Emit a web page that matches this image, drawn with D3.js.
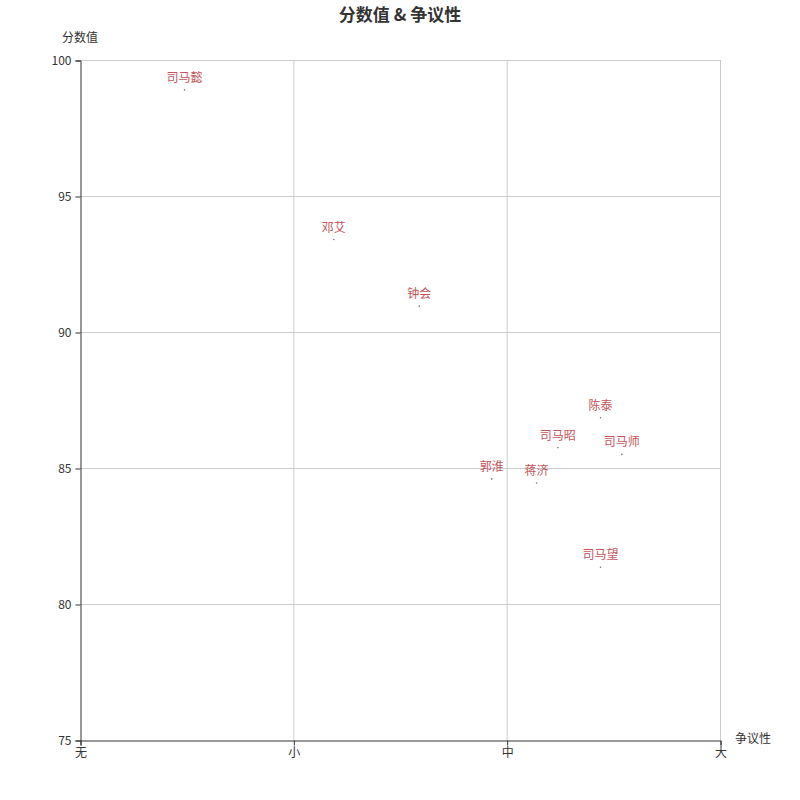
<!DOCTYPE html>
<html><head><meta charset="utf-8">
<script src="https://cdn.jsdelivr.net/npm/d3@7"></script>
<style>body{margin:0;background:#fff;font-family:"Noto Sans CJK SC","Noto Sans",sans-serif;}</style>
</head><body><svg id="c" width="800" height="800"></svg>
<script>
const names = ["司马懿","邓艾","钟会","郭淮","蒋济","司马昭","陈泰","司马师","司马望"];
const controversy = [0.49,1.19,1.59,1.93,2.14,2.24,2.44,2.54,2.44];
const scores = [98.9,93.4,90.95,84.6,84.45,85.75,86.85,85.5,81.35];
const xTickLabels = ["无","小","中","大"];
const yTicks = [75,80,85,90,95,100];

const svg = d3.select("#c");
const L=80,R=720,T=60,B=740;
const x = d3.scaleLinear().domain([0,3]).range([L,R]);
const y = d3.scaleLinear().domain([75,100]).range([B,T]);
const font = '"Noto Sans CJK SC","Noto Sans",sans-serif';

// grid
svg.append("g").selectAll("line").data(yTicks.slice(1)).join("line")
  .attr("x1",L).attr("x2",R).attr("y1",d=>y(d)+0.5).attr("y2",d=>y(d)+0.5)
  .attr("stroke","#ccc").attr("stroke-width",1);
svg.append("g").selectAll("line").data([1,2,3]).join("line")
  .attr("x1",d=>x(d)+0.5).attr("x2",d=>x(d)+0.5).attr("y1",T).attr("y2",B)
  .attr("stroke","#ccc").attr("stroke-width",1);

// axes
const yAxis = d3.axisLeft(y).tickValues(yTicks).tickSize(5).tickPadding(4);
const gy = svg.append("g").attr("transform",`translate(${L+0.5},0.5)`).call(yAxis);
const xAxis = d3.axisBottom(x).tickValues([0,1,2,3]).tickFormat(d=>xTickLabels[d]).tickSize(5).tickPadding(3);
const gx = svg.append("g").attr("transform",`translate(0.5,${B+0.5})`).call(xAxis);
[gx,gy].forEach(g=>{
  g.select(".domain").attr("stroke","#333");
  g.selectAll(".tick line").attr("stroke","#333");
  g.selectAll("text").attr("fill","#333").style("font-family",font).style("font-size","12px");
});

// axis names
svg.append("text").attr("x",L).attr("y",42).attr("text-anchor","middle")
  .style("font-family",font).style("font-size","12px").attr("fill","#333").text("分数值");
svg.append("text").attr("x",R+15).attr("y",B+3).attr("text-anchor","start")
  .style("font-family",font).style("font-size","12px").attr("fill","#333").text("争议性");

// title
svg.append("text").attr("x",400).attr("y",21).attr("text-anchor","middle")
  .style("font-family",font).style("font-size","17px").style("font-weight","bold")
  .attr("fill","#333").text("分数值 & 争议性");

// points
const data = names.map((n,i)=>({n,cx:controversy[i],sc:scores[i]}));
svg.append("g").selectAll("circle").data(data).join("circle")
  .attr("cx",d=>x(d.cx)).attr("cy",d=>y(d.sc)).attr("r",0.8).attr("fill","#777");
svg.append("g").selectAll("text").data(data).join("text")
  .attr("x",d=>x(d.cx)).attr("y",d=>y(d.sc)-8).attr("text-anchor","middle")
  .style("font-family",font).style("font-size","12px").attr("fill","#c4545a")
  .text(d=>d.n);
</script></body></html>
